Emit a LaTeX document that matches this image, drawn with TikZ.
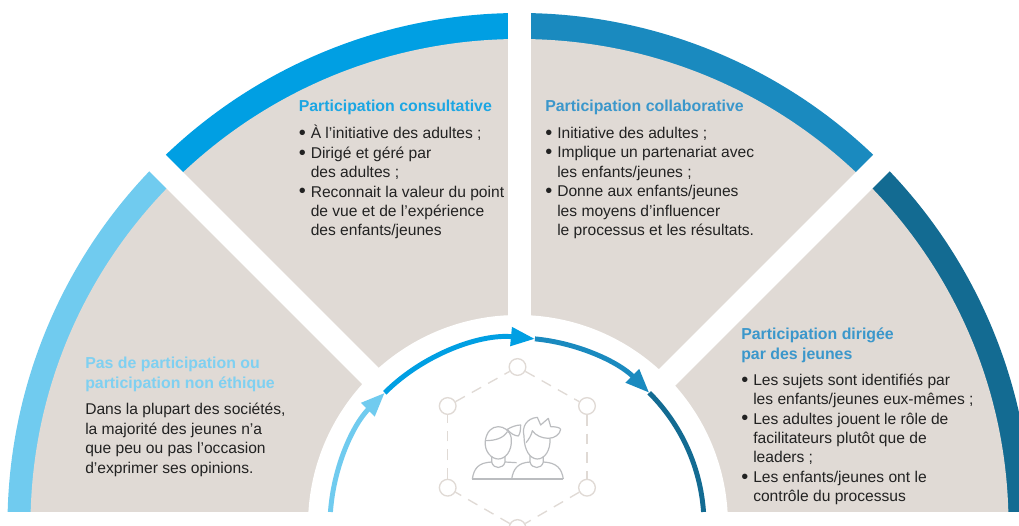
\documentclass[tikz,border=0pt]{standalone}
\usepackage{fontspec}
\setmainfont{Liberation Sans}
\usetikzlibrary{positioning,arrows.meta}
\definecolor{clair}{HTML}{70CBEF}
\definecolor{vif}{HTML}{009FE3}
\definecolor{moyen}{HTML}{1A8ABF}
\definecolor{fonce}{HTML}{136B92}
\definecolor{sable}{HTML}{E0DAD5}
\definecolor{encre}{HTML}{222222}
\definecolor{trait}{HTML}{BBBDC0}
\definecolor{titreclair}{HTML}{7FD0F1}
\definecolor{titrevif}{HTML}{1CA6E3}
\definecolor{titremoyen}{HTML}{3B97CB}
\newcommand{\puce}{\makebox[9pt][l]{\raisebox{-0.6pt}{\fontsize{15}{15}\selectfont\textbullet}}}
\newcommand{\suite}{\hspace*{9pt}}

\begin{document}
\begin{tikzpicture}[x=0.75pt,y=0.75pt,
      titre/.style={anchor=north west,inner sep=0pt,align=left,font=\fontsize{11.9}{14.5}\selectfont\bfseries},
      corps/.style={anchor=north west,inner sep=0pt,align=left,text=encre,font=\fontsize{11.7}{14.55}\selectfont},
      fleche/.style={line width=3.7pt,-{Triangle[length=18pt,width=13.5pt]}},
      sommet/.style={circle,draw=sable,fill=white,line width=1pt,minimum size=12.5pt,inner sep=0pt},
      tirets/.style={draw=sable,line width=1pt,dash pattern=on 8pt off 6pt},
      icone/.style={draw=trait,line width=0.9pt,line join=round,fill=none}]
  %.
  \clip (-519.5,0) rectangle (499.5,525);
  % ring and sectors
  \fill[clair] (0,0) -- (180:512) arc[start angle=180,end angle=135,radius=512] -- cycle;
  \fill[vif] (0,0) -- (135:512) arc[start angle=135,end angle=90,radius=512] -- cycle;
  \fill[moyen] (0,0) -- (90:512) arc[start angle=90,end angle=45,radius=512] -- cycle;
  \fill[fonce] (0,0) -- (45:512) arc[start angle=45,end angle=0,radius=512] -- cycle;
  \fill[sable] (0,0) ellipse[x radius=489,y radius=486];
  \foreach \a in {45,90,135}
    \draw[white,line width=17.25pt] (0,0) -- (\a:530);
  \fill[white] (-1.5,0) circle (210);
  \fill[white] (-525,-5) rectangle (505,12.7);
  %.
  % arrows round the hub
  \begin{scope}[shift={(-2.5,0)}]
    \coordinate (anneaua) at (176:187);
    \coordinate (anneaub) at (135:187);
    \coordinate (anneauc) at (84.5:187);
    \coordinate (anneaud) at (45:187);
    \coordinate (anneaue) at (4:187);
  \end{scope}
  \draw[fleche,clair] (anneaua) to[bend left=20.5,looseness=.88] (anneaub);
  \draw[fleche,vif] (anneaub) to[bend left=25.2,looseness=.88] (anneauc);
  \draw[fleche,moyen] (anneauc) to[bend left=19.8,looseness=.88] (anneaud);
  \draw[line width=3.7pt,fonce] (anneaud) to[bend left=20.5,looseness=.88] (anneaue);
  %.
  % hexagon
  \node[sommet] (hexa) at (-2,158) {};
  \node[sommet] (hexb) at (67.5,119) {};
  \node[sommet] (hexc) at (67.5,37.3) {};
  \node[sommet] (hexd) at (-2,-3) {};
  \node[sommet] (hexe) at (-71.8,37.3) {};
  \node[sommet] (hexf) at (-71.8,119) {};
  \path[tirets] (hexa) -- (hexb);
  \path[tirets] (hexb) -- (hexc);
  \path[tirets] (hexc) -- (hexd);
  \path[tirets] (hexd) -- (hexe);
  \path[tirets] (hexe) -- (hexf);
  \path[tirets] (hexf) -- (hexa);
  %.
  % two young people
  \begin{scope}[shift={(-219.5,215)},x=0.25pt,y=-0.25pt]
    \draw[icone] (517,507) -- (790,507);
    \draw[icone] (517,507) .. controls (522,475) and (535,458) .. (575,456) -- (575,438);
    \draw[icone] (575,456) .. controls (580,478) and (610,478) .. (615,456) -- (615,438);
    \draw[icone] (615,456) -- (650,458);
    \draw[icone] (635,507) .. controls (640,475) and (655,458) .. (690,456) -- (690,438);
    \draw[icone] (690,456) .. controls (695,478) and (725,478) .. (730,456) -- (730,438);
    \draw[icone] (730,456) .. controls (770,458) and (785,475) .. (790,507);
    \draw[icone] (556,392) .. controls (552,425) and (575,447) .. (595,447)
      .. controls (615,447) and (637,425) .. (634,385)
      .. controls (630,360) and (610,350) .. (595,350)
      .. controls (575,350) and (560,365) .. (556,392);
    \draw[icone] (556,392) .. controls (585,392) and (610,385) .. (622,365);
    \draw[icone] (622,358) .. controls (635,350) and (650,345) .. (662,345)
      .. controls (662,360) and (660,372) .. (655,378)
      .. controls (645,378) and (630,370) .. (622,358);
    \draw[icone] (672,378) .. controls (672,420) and (690,447) .. (712,447)
      .. controls (735,447) and (752,420) .. (750,385);
    \draw[icone] (672,378) .. controls (665,350) and (680,325) .. (712,322)
      -- (722,345) -- (745,325) -- (752,350)
      .. controls (765,350) and (780,352) .. (782,358)
      .. controls (780,372) and (765,385) .. (745,385)
      .. controls (725,385) and (705,375) .. (697,362)
      .. controls (695,375) and (685,390) .. (678,398);
  \end{scope}
  %.
  % texts
  \node[titre,text=titrevif] (titreconsult) at (-221,425) {Participation consultative};
  \node[corps,below=7.3pt of titreconsult.south west,anchor=north west] (corpsconsult)
    {\puce À l’initiative des adultes ;\\
     \puce Dirigé et géré par\\
     \suite des adultes ;\\
     \puce Reconnait la valeur du point\\
     \suite de vue et de l’expérience\\
     \suite des enfants/jeunes};
  \node[titre,text=titremoyen] (titrecollab) at (25.5,425) {Participation collaborative};
  \node[corps,below=8.7pt of titrecollab.south west,anchor=north west] (corpscollab)
    {\puce Initiative des adultes ;\\
     \puce Implique un partenariat avec\\
     \suite les enfants/jeunes ;\\
     \puce Donne aux enfants/jeunes\\
     \suite les moyens d’influencer\\
     \suite le processus et les résultats.};
  \node[titre,text=titreclair] (titrepas) at (-434.5,168) {Pas de participation ou\\participation non éthique};
  \node[corps,below=8.6pt of titrepas.south west,anchor=north west] (corpspas)
    {Dans la plupart des sociétés,\\
     la majorité des jeunes n’a\\
     que peu ou pas l’occasion\\
     d’exprimer ses opinions.};
  \node[titre,text=titremoyen] (titredirige) at (221.5,197) {Participation dirigée\\par des jeunes};
  \node[corps,below=8pt of titredirige.south west,anchor=north west] (corpsdirige)
    {\puce Les sujets sont identifiés par\\
     \suite les enfants/jeunes eux-mêmes ;\\
     \puce Les adultes jouent le rôle de\\
     \suite facilitateurs plutôt que de\\
     \suite leaders ;\\
     \puce Les enfants/jeunes ont le\\
     \suite contrôle du processus};
  %.
\end{tikzpicture}
\end{document}
